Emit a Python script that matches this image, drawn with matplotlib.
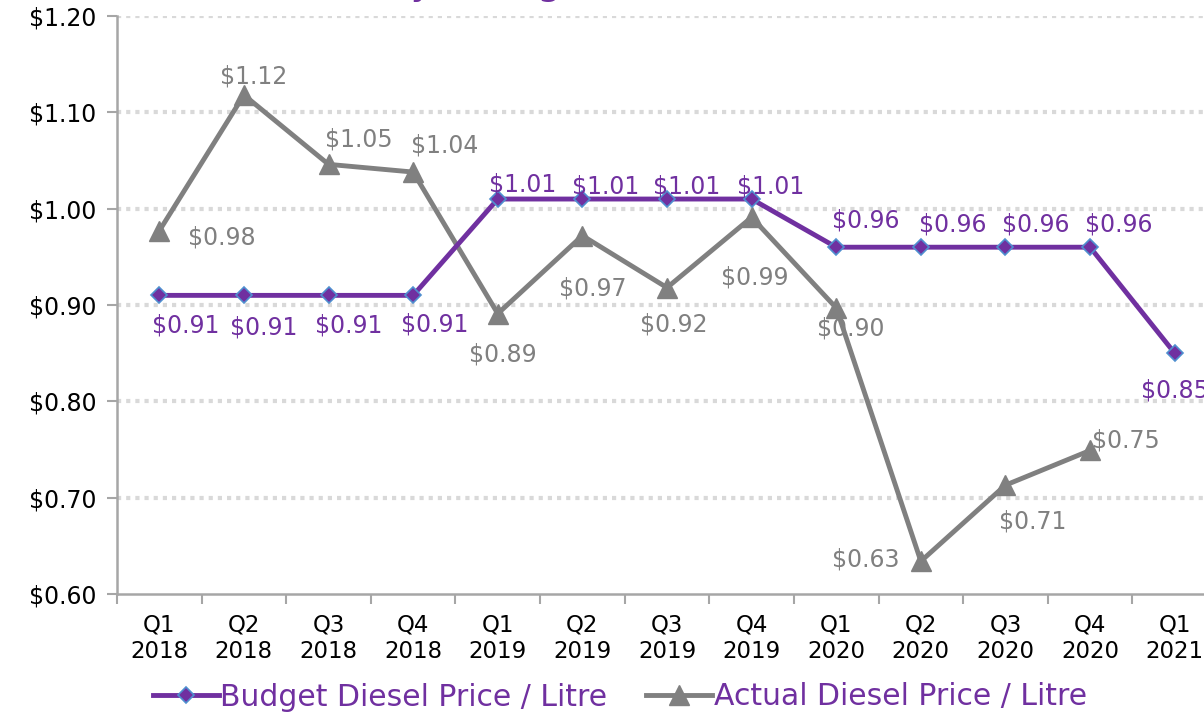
import matplotlib
matplotlib.use("Agg")
import matplotlib.pyplot as plt
from matplotlib.ticker import FuncFormatter, FixedLocator

plt.rcParams['font.family'] = ['DejaVu Sans']

quarters = ["Q1\n2018", "Q2\n2018", "Q3\n2018", "Q4\n2018",
            "Q1\n2019", "Q2\n2019", "Q3\n2019", "Q4\n2019",
            "Q1\n2020", "Q2\n2020", "Q3\n2020", "Q4\n2020",
            "Q1\n2021"]
budget = [0.91, 0.91, 0.91, 0.91, 1.01, 1.01, 1.01, 1.01, 0.96, 0.96, 0.96, 0.96, 0.85]
actual = [0.977, 1.118, 1.046, 1.038, 0.891, 0.972, 0.918, 0.991, 0.897, 0.634, 0.713, 0.749]
y_ticks = [0.60, 0.70, 0.80, 0.90, 1.00, 1.10, 1.20]

PURPLE = "#7030A0"
GRAY = "#808080"

# label offsets (pixels) for each data label
budget_off = [(26, -30), (20, -32), (20, -30), (22, -29),
              (25, 15), (23, 13), (20, 13), (19, 13),
              (30, 27), (32, 23), (30, 23), (29, 23), (0, -37)]
actual_off = [(63, -7), (10, 18), (30, 25), (32, 27),
              (5, -41), (10, -53), (7, -37), (3, -60),
              (15, -21), (-55, 2), (27, -36), (36, 10)]

fig = plt.figure(figsize=(12.04, 7.13), dpi=100)
ax = fig.add_axes([117/1204, 1-594/713, 1100/1204, 578/713])

x = list(range(len(quarters)))
ax.plot(x, budget, color=PURPLE, lw=3.5, marker="D", ms=8,
        mfc=PURPLE, mec="#4F8FCF", mew=1.2, zorder=4,
        label="Budget Diesel Price / Litre")
ax.plot(x[:len(actual)], actual, color=GRAY, lw=3.5, marker="^", ms=14,
        mfc=GRAY, mec=GRAY, zorder=3,
        label="Actual Diesel Price / Litre")

for i, v in enumerate(budget):
    ax.annotate(f"${v:.2f}", (i, v), xytext=budget_off[i], textcoords="offset pixels",
                ha="center", va="center", color=PURPLE, fontsize=17, zorder=6)
for i, v in enumerate(actual):
    ax.annotate(f"${v:.2f}", (i, v), xytext=actual_off[i], textcoords="offset pixels",
                ha="center", va="center", color=GRAY, fontsize=17, zorder=6)

ax.set_xlim(-0.5, len(quarters) - 0.5)
ax.set_ylim(0.60, 1.20)
ax.set_yticks(y_ticks)
ax.yaxis.set_major_formatter(FuncFormatter(lambda v, p: f"${v:.2f}"))
ax.set_xticks(x)
ax.set_xticklabels(quarters)
ax.xaxis.set_minor_locator(FixedLocator([i - 0.5 for i in range(len(quarters) + 1)]))
ax.tick_params(axis="x", which="major", length=0, pad=14, labelsize=16.5, colors="black")
ax.tick_params(axis="x", which="minor", length=7, width=1.5, color="#A6A6A6", direction="out")
ax.tick_params(axis="y", length=7, width=1.5, color="#A6A6A6", labelsize=17, pad=8)

for v in y_ticks[1:]:
    ax.axhline(v, color="#D9D9D9", lw=3, ls=(0, (1, 1.2)), zorder=1)

for s in ["top", "right"]:
    ax.spines[s].set_visible(False)
for s in ["left", "bottom"]:
    ax.spines[s].set_color("#A6A6A6")
    ax.spines[s].set_linewidth(1.8)

leg = fig.legend(loc="center", bbox_to_anchor=(620/1204, 1-697/713), ncol=2, frameon=False,
                 fontsize=21.5, handlelength=2.2, handletextpad=0.05, columnspacing=1.3)
for t in leg.get_texts():
    t.set_color(PURPLE)

fig.text(1056/1204, 1 + 6/713, "Diesel Price History (Budget vs Actual Diesel Costs)",
         ha="right", va="baseline", fontsize=28, color=PURPLE)

fig.savefig("out.png", dpi=100)
